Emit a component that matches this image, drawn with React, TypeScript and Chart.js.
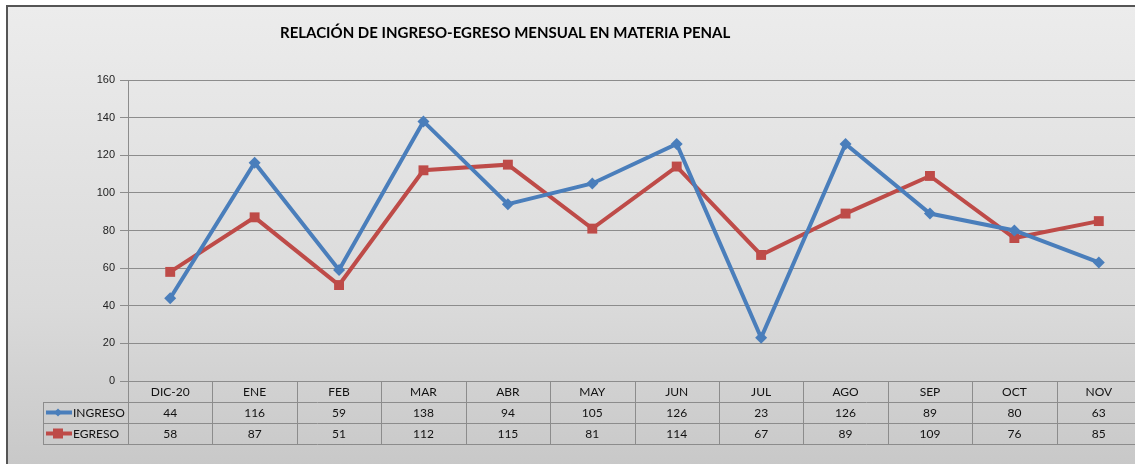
import React, { useEffect, useRef } from "react";
import { Chart, registerables } from "chart.js";

Chart.register(...registerables);

const categories = ["DIC-20", "ENE", "FEB", "MAR", "ABR", "MAY", "JUN", "JUL", "AGO", "SEP", "OCT", "NOV"];
const ingreso = [44, 116, 59, 138, 94, 105, 126, 23, 126, 89, 80, 63];
const egreso = [58, 87, 51, 112, 115, 81, 114, 67, 89, 109, 76, 85];
const yTicks = [0, 20, 40, 60, 80, 100, 120, 140, 160];
const titleText = "RELACIÓN DE INGRESO-EGRESO MENSUAL EN MATERIA PENAL";

const BLUE = "#4a7ebb";
const RED = "#be4b48";
const GRID = "#8c8c8c";

const tablePlugin = {
  id: "tablePlugin",
  afterDraw(chart: any) {
    const ctx = chart.ctx;
    const area = chart.chartArea;
    const xs = chart.scales.x;
    const n = categories.length;
    const w = (area.right - area.left) / n;
    const y0 = area.bottom;
    const rowH = 21;
    const legendLeft = 43;
    ctx.save();
    // title
    ctx.fillStyle = "#000";
    ctx.font = "bold 15px Lato";
    ctx.textAlign = "left";
    ctx.textBaseline = "middle";
    ctx.fillText(titleText, 280, 33);

    ctx.strokeStyle = GRID;
    ctx.lineWidth = 1;
    ctx.beginPath();
    for (let i = 0; i <= n; i++) {
      const x = Math.round(area.left + i * w) + 0.5;
      ctx.moveTo(x, y0);
      ctx.lineTo(x, y0 + 3 * rowH);
    }
    ctx.moveTo(legendLeft + 0.5, y0 + rowH);
    ctx.lineTo(legendLeft + 0.5, y0 + 3 * rowH);
    for (let r = 1; r <= 3; r++) {
      const y = Math.round(y0 + r * rowH) + 0.5;
      ctx.moveTo(legendLeft, y);
      ctx.lineTo(area.right, y);
    }
    ctx.stroke();

    ctx.fillStyle = "#111";
    ctx.font = "12px Lato";
    ctx.textAlign = "center";
    ctx.textBaseline = "middle";
    for (let i = 0; i < n; i++) {
      const cx = xs.getPixelForValue(i);
      ctx.fillText(categories[i], cx, y0 + rowH / 2 + 1);
      ctx.fillText(String(ingreso[i]), cx, y0 + rowH * 1.5 + 1);
      ctx.fillText(String(egreso[i]), cx, y0 + rowH * 2.5 + 1);
    }

    // legend samples
    const sample = (y: number, color: string, marker: string, label: string) => {
      ctx.strokeStyle = color;
      ctx.lineWidth = 4;
      ctx.beginPath();
      ctx.moveTo(46, y);
      ctx.lineTo(72, y);
      ctx.stroke();
      ctx.fillStyle = color;
      if (marker === "diamond") {
        ctx.beginPath();
        ctx.moveTo(58, y - 4);
        ctx.lineTo(62, y);
        ctx.lineTo(58, y + 4);
        ctx.lineTo(54, y);
        ctx.closePath();
        ctx.fill();
      } else {
        ctx.fillRect(53, y - 5, 10, 10);
      }
      ctx.fillStyle = "#111";
      ctx.textAlign = "left";
      ctx.fillText(label, 73, y + 1);
    };
    sample(y0 + rowH * 1.5, BLUE, "diamond", "INGRESO");
    sample(y0 + rowH * 2.5, RED, "square", "EGRESO");
    ctx.restore();
  },
};

export default function App() {
  const ref = useRef<HTMLCanvasElement>(null);
  useEffect(() => {
    if (!ref.current) return;
    const chart = new Chart(ref.current, {
      type: "line",
      data: {
        labels: categories,
        datasets: [
          {
            label: "INGRESO",
            data: ingreso,
            borderColor: BLUE,
            backgroundColor: BLUE,
            borderWidth: 4,
            pointStyle: "rectRot",
            pointRadius: 6,
            pointBorderWidth: 0,
            tension: 0,
          },
          {
            label: "EGRESO",
            data: egreso,
            borderColor: RED,
            backgroundColor: RED,
            borderWidth: 4,
            pointStyle: "rect",
            pointRadius: 7,
            pointBorderWidth: 0,
            tension: 0,
          },
        ],
      },
      options: {
        animation: false,
        responsive: false,
        devicePixelRatio: 1,
        layout: { padding: { left: 0, right: 9, top: 80, bottom: 83 } },
        plugins: {
          legend: { display: false },
          tooltip: { enabled: false },
          title: { display: false },
        },
        scales: {
          x: {
            type: "category",
            offset: true,
            display: false,
          },
          y: {
            min: 0,
            max: 160,
            afterFit: (s: any) => {
              s.width = 128;
            },
            afterBuildTicks: (s: any) => {
              s.ticks = yTicks.map((v) => ({ value: v }));
            },
            grid: { color: GRID, tickLength: 8, lineWidth: 1 },
            border: { display: true, color: GRID },
            ticks: {
              padding: 5,
              color: "#222",
              font: { family: "Liberation Sans", size: 11 },
            },
          },
        },
      },
      plugins: [tablePlugin],
    });
    return () => chart.destroy();
  }, []);

  return (
    <div style={{ position: "fixed", left: 0, top: 0, width: 1135, height: 464, overflow: "hidden", background: "#fff" }}>
      <div
        style={{
          position: "absolute",
          left: 6,
          top: 5,
          width: 1200,
          height: 500,
          borderLeft: "2px solid #555",
          borderTop: "2px solid #555",
          background: "linear-gradient(to bottom, #ececec 0px, #dadada 300px, #c8c8c8 459px)",
        }}
      />
      <canvas ref={ref} width={1150} height={464} style={{ position: "absolute", left: 0, top: 0, width: 1150, height: 464 }} />
    </div>
  );
}
